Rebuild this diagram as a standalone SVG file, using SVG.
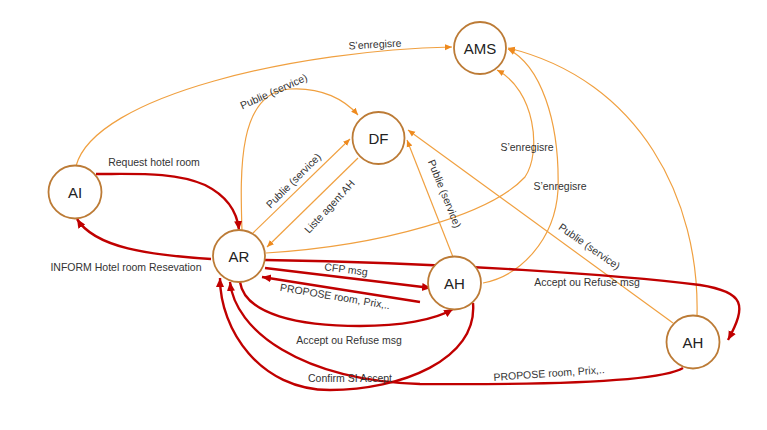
<svg xmlns="http://www.w3.org/2000/svg" width="767" height="430" viewBox="0 0 767 430">
<style>
.node circle{fill:#fff;stroke:#BC7B36;stroke-width:1.8}
.node text{font-family:"Liberation Sans",Arial,sans-serif;font-size:15px;fill:#222;text-anchor:middle;dominant-baseline:central}
.o{fill:none;stroke:#F0A040;stroke-width:1.2;marker-end:url(#ao)}
.r{fill:none;stroke:#C00000;stroke-width:2.4;marker-end:url(#ar)}
.lbl{font-family:"Liberation Sans",Arial,sans-serif;font-size:10.5px;fill:#333;text-anchor:middle}
</style>
<defs>
<marker id="ao" markerUnits="userSpaceOnUse" markerWidth="8" markerHeight="8" viewBox="0 0 8 8" refX="7" refY="4" orient="auto"><path d="M0,1 L7,4 L0,7 Z" fill="#EE8A1E"/></marker>
<marker id="ar" markerUnits="userSpaceOnUse" markerWidth="10" markerHeight="10" viewBox="0 0 10 10" refX="9" refY="5" orient="auto"><path d="M0,1 L9,5 L0,9 Z" fill="#C00000"/></marker>
</defs>
<rect width="767" height="430" fill="#fff"/>
<g id="connectors">
<path class="o" d="M76,166 C95,95 300,50 452,47"/>
<path class="o" d="M242,231 C240,170 238,92 290,89 C322,87 345,100 358,115"/>
<path class="o" d="M253,233 L350,139"/>
<path class="o" d="M358,158 L267,247"/>
<path class="o" d="M453,257 L407,140"/>
<path class="o" d="M673,323 L408,130"/>
<path class="o" d="M266,253 C380,246 490,215 525,177 C542,152 535,90 497,70"/>
<path class="o" d="M483,283 C520,276 555,240 558,190 C560,120 540,65 508,49"/>
<path class="o" d="M697,316 C700,200 640,80 508,48"/>
<path class="r" d="M96,174 C140,174 175,172 205,185 C225,195 237,210 239,230"/>
<path class="r" d="M211,259 C150,255 95,248 77,219"/>
<path class="r" d="M265,268 L431,288"/>
<path class="r" d="M420,302 L262,277"/>
<path class="r" d="M240,282 C245,315 300,326 360,326 C400,326 435,320 453,309"/>
<path class="r" d="M473,303 C478,360 400,390 330,390 C260,390 220,330 220,278"/>
<path class="r" d="M265,260 C450,263 620,275 700,285 C745,292 747,305 728,340"/>
<path class="r" d="M683,368 C660,382 550,385 420,384 C300,380 235,330 230,282"/>
<text class="lbl" x="375" y="48" transform="rotate(-3 375 45)">S’enregisre</text>
<text class="lbl" x="274" y="95" transform="rotate(-24 274 92)">Publie (service)</text>
<text class="lbl" x="294" y="184" transform="rotate(-45 294 181)">Publie (service)</text>
<text class="lbl" x="330" y="210" transform="rotate(-47 330 207)">Liste agent AH</text>
<text class="lbl" x="444" y="197" transform="rotate(68 444 194)">Publie (service)</text>
<text class="lbl" x="589" y="250" transform="rotate(35 589 247)">Publie (service)</text>
<text class="lbl" x="527" y="151">S’enregisre</text>
<text class="lbl" x="560" y="190">S’enregisre</text>
<text class="lbl" x="154" y="166">Request hotel room</text>
<text class="lbl" x="126" y="271">INFORM Hotel room Resevation</text>
<text class="lbl" x="346" y="273" transform="rotate(7 346 270)">CFP msg</text>
<text class="lbl" x="335" y="300" transform="rotate(9.5 335 297)">PROPOSE room, Prix,..</text>
<text class="lbl" x="349" y="344">Accept ou Refuse msg</text>
<text class="lbl" x="350" y="382">Confirm  SI Accept</text>
<text class="lbl" x="587" y="286">Accept ou Refuse msg</text>
<text class="lbl" x="549" y="377" transform="rotate(-4 549 373)">PROPOSE room, Prix,..</text>
</g>
<g id="AMS" class="node"><circle cx="480" cy="48" r="26"/><text x="480" y="48">AMS</text></g>
<g id="DF" class="node"><circle cx="378.5" cy="138" r="26"/><text x="378.5" y="138">DF</text></g>
<g id="AI" class="node"><circle cx="75" cy="192" r="26.5"/><text x="75" y="192">AI</text></g>
<g id="AR" class="node"><circle cx="239" cy="256" r="26"/><text x="239" y="256">AR</text></g>
<g id="AH1" class="node"><circle cx="454.5" cy="283" r="26.5"/><text x="454.5" y="283">AH</text></g>
<g id="AH2" class="node"><circle cx="693" cy="342" r="26.5"/><text x="693" y="342">AH</text></g>
</svg>
